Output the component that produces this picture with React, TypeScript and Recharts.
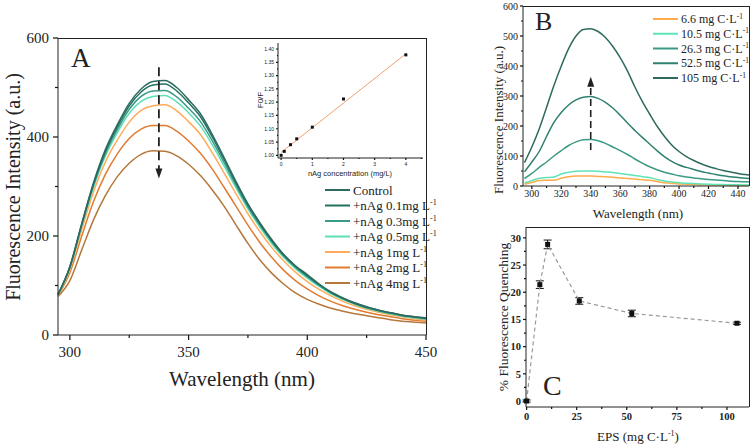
import React from "react";
import {
  LineChart,
  ComposedChart,
  Line,
  Scatter,
  XAxis,
  YAxis,
  ReferenceLine,
  ReferenceDot,
  ErrorBar,
} from "recharts";

const SERIF = "'Liberation Serif', 'Times New Roman', serif";
const SANS = "'Liberation Sans', Arial, sans-serif";
const INK = "#222";

// ---- panel A: quenching of EPS fluorescence by nAg ----
const wavelengths = [
  295, 300, 305, 310, 315, 320, 325, 330, 335, 340, 345, 350, 355, 360, 365, 370,
  375, 380, 385, 390, 395, 400, 405, 410, 415, 420, 425, 430, 435, 440, 445, 450,
];
const control = [82, 138, 225, 308, 375, 425, 468, 497, 512, 514, 500, 475, 447, 405, 358, 310, 265, 227, 193, 163, 140, 122, 103, 87, 75, 65, 57, 50, 45, 40, 37, 35];
const nAg01 = [82, 138, 224, 306, 372, 421, 463, 491, 505, 507, 493, 469, 441, 400, 354, 307, 263, 225, 191, 162, 139, 120, 102, 86, 74, 64, 56, 50, 45, 40, 37, 34];
const nAg03 = [81, 137, 222, 303, 367, 415, 456, 482, 493, 494, 481, 458, 431, 392, 348, 302, 259, 222, 189, 160, 137, 118, 100, 85, 73, 63, 55, 49, 44, 39, 36, 33];
const nAg05 = [81, 136, 220, 299, 362, 409, 448, 472, 482, 484, 471, 449, 422, 384, 341, 297, 255, 218, 185, 157, 134, 115, 98, 83, 72, 62, 54, 48, 43, 38, 35, 32];
const nAg1 = [80, 132, 213, 290, 350, 394, 430, 454, 463, 465, 453, 431, 405, 368, 327, 285, 245, 209, 177, 150, 127, 108, 92, 79, 68, 59, 52, 46, 41, 37, 33, 30];
const nAg2 = [80, 126, 200, 270, 325, 366, 397, 416, 423, 423, 412, 392, 367, 335, 298, 260, 222, 187, 157, 131, 110, 93, 79, 68, 59, 52, 46, 41, 37, 33, 30, 28];
const nAg4 = [78, 110, 172, 233, 282, 320, 347, 365, 372, 371, 362, 345, 322, 293, 260, 222, 185, 152, 125, 103, 85, 72, 62, 54, 48, 43, 39, 35, 31, 28, 26, 24];

const seriesA = [
  { key: "nAg4", name: "+nAg 4mg L", color: "#b5773a", values: nAg4 },
  { key: "nAg2", name: "+nAg 2mg L", color: "#e07b30", values: nAg2 },
  { key: "nAg1", name: "+nAg 1mg L", color: "#ffab5a", values: nAg1 },
  { key: "nAg05", name: "+nAg 0.5mg L", color: "#5ee0b5", values: nAg05 },
  { key: "nAg03", name: "+nAg 0.3mg L", color: "#3a9a88", values: nAg03 },
  { key: "nAg01", name: "+nAg 0.1mg L", color: "#22705f", values: nAg01 },
  { key: "control", name: "Control", color: "#2f6a62", values: control },
];

// inset: Stern-Volmer plot
const conc = [0, 0.1, 0.3, 0.5, 1, 2, 4];
const f0f = [1.0, 1.015, 1.04, 1.062, 1.106, 1.212, 1.378];
const fitX = [0, 4];
const fitY = [1.011, 1.382];

// ---- panel B: EPS fluorescence vs EPS concentration ----
const eps66 = [6, 12, 18, 19, 19, 26, 31, 33, 33, 33, 32, 31, 29, 27, 25, 23, 21, 19, 15, 11, 9, 7, 6, 5, 4, 4, 3, 3, 2, 2, 2, 2];
const eps105 = [10, 18, 26, 28, 30, 40, 46, 49, 50, 50, 49, 47, 45, 42, 38, 35, 31, 28, 22, 17, 13, 11, 9, 8, 7, 6, 5, 5, 4, 4, 3, 3];
const eps263 = [25, 42, 62, 80, 100, 118, 135, 147, 154, 155, 151, 142, 130, 118, 105, 90, 76, 64, 54, 46, 40, 34, 30, 27, 24, 22, 20, 18, 16, 15, 14, 13];
const eps525 = [47, 80, 115, 165, 212, 245, 270, 287, 296, 298, 292, 279, 260, 236, 210, 185, 162, 140, 118, 98, 82, 70, 62, 55, 48, 43, 38, 34, 31, 28, 26, 24];
const eps1050 = [78, 130, 190, 262, 335, 400, 458, 500, 522, 524, 515, 495, 465, 428, 383, 330, 282, 240, 200, 166, 137, 115, 98, 85, 74, 65, 58, 52, 47, 42, 38, 35];

const seriesB = [
  { key: "e66", name: "6.6 mg C·L", color: "#ffab4a", values: eps66 },
  { key: "e105", name: "10.5 mg C·L", color: "#5fe3b8", values: eps105 },
  { key: "e263", name: "26.3 mg C·L", color: "#3a9a85", values: eps263 },
  { key: "e525", name: "52.5 mg C·L", color: "#2f8070", values: eps525 },
  { key: "e1050", name: "105 mg C·L", color: "#2e6a5f", values: eps1050 },
];

// ---- panel C: % quenching vs EPS ----
const epsConc = [0, 6.6, 10.5, 26.3, 52.5, 105];
const quenching = [0, 21.4, 28.8, 18.4, 16.1, 14.3];
const quenchErr = [0.2, 0.7, 0.8, 0.6, 0.6, 0.2];

const dataA = wavelengths.map((w, i) => {
  const row: any = { w };
  seriesA.forEach((s) => (row[s.key] = s.values[i]));
  return row;
});
const dataB = wavelengths.map((w, i) => {
  const row: any = { w };
  seriesB.forEach((s) => (row[s.key] = s.values[i]));
  return row;
});
const dataC = epsConc.map((x, i) => ({ x, q: quenching[i], err: quenchErr[i] }));
const insetPts = conc.map((x, i) => ({ x, y: f0f[i] }));

type TickOpts = {
  side: "bottom" | "left";
  majors: number[];
  fmt: (v: number) => string;
  size: number;
  major: number;
  minor: number;
  off: number;
  font: string;
  weight?: string | number;
};

function makeTick(o: TickOpts) {
  return (props: any) => {
    const { x, y, payload } = props;
    const v = payload.value;
    const isMajor = o.majors.some((m) => Math.abs(m - v) < 1e-6);
    const len = isMajor ? o.major : o.minor;
    if (o.side === "bottom") {
      return (
        <g>
          <path d={`M${x},${y}V${y + len}`} stroke="#111" strokeWidth={1.2} fill="none" />
          {isMajor && (
            <text x={x} y={y + o.off} textAnchor="middle" fontSize={o.size} fontFamily={o.font} fontWeight={o.weight} fill={INK}>
              {o.fmt(v)}
            </text>
          )}
        </g>
      );
    }
    return (
      <g>
        <path d={`M${x},${y}H${x - len}`} stroke="#111" strokeWidth={1.2} fill="none" />
        {isMajor && (
          <text x={x - o.off} y={y} dy="0.35em" textAnchor="end" fontSize={o.size} fontFamily={o.font} fontWeight={o.weight} fill={INK}>
            {o.fmt(v)}
          </text>
        )}
      </g>
    );
  };
}

const arrowHead = (dir: "up" | "down") => (p: any) => {
  const { cx, cy } = p;
  const h = dir === "down" ? -10 : 10;
  return <path d={`M${cx - 3.5},${cy + h} L${cx + 3.5},${cy + h} L${cx},${cy} Z`} fill={INK} />;
};

const square = (s: number) => (p: any) => {
  if (p.cx == null || p.cy == null) return <g />;
  return <rect key={`sq-${p.cx}-${p.cy}`} x={p.cx - s / 2} y={p.cy - s / 2} width={s} height={s} fill="#111" />;
};

const axisLine = { stroke: INK, strokeWidth: 1 };

// top + right edges of a boxed plot area (plot areas are fixed by the chart margins below)
function Box({ left, top, width, height }: { left: number; top: number; width: number; height: number }) {
  return (
    <div
      style={{
        position: "absolute",
        left,
        top,
        width,
        height,
        boxSizing: "border-box",
        borderTop: `1px solid ${INK}`,
        borderRight: `1px solid ${INK}`,
        pointerEvents: "none",
      }}
    />
  );
}

function Sup({ children, dy = -5 }: any) {
  return (
    <tspan dy={dy} fontSize="0.62em">
      {children}
    </tspan>
  );
}

export default function App() {
  const tickAx = makeTick({ side: "bottom", majors: [300, 350, 400, 450], fmt: String, size: 15, major: 5, minor: 3, off: 22, font: SERIF });
  const tickAy = makeTick({ side: "left", majors: [0, 200, 400, 600], fmt: String, size: 15, major: 5, minor: 3, off: 9, font: SERIF });
  const tickIx = makeTick({ side: "bottom", majors: [0, 1, 2, 3, 4], fmt: String, size: 5, major: 2, minor: 1, off: 8, font: SANS });
  const tickIy = makeTick({ side: "left", majors: [1, 1.05, 1.1, 1.15, 1.2, 1.25, 1.3, 1.35, 1.4], fmt: (v) => v.toFixed(2), size: 5, major: 2, minor: 1, off: 4, font: SANS });
  const tickBx = makeTick({ side: "bottom", majors: [300, 320, 340, 360, 380, 400, 420, 440], fmt: String, size: 10, major: 3, minor: 2, off: 11, font: SERIF });
  const tickBy = makeTick({ side: "left", majors: [0, 100, 200, 300, 400, 500, 600], fmt: String, size: 10, major: 3, minor: 2, off: 5, font: SERIF });
  const tickCx = makeTick({ side: "bottom", majors: [0, 25, 50, 75, 100], fmt: String, size: 10.5, major: 3, minor: 2, off: 13, font: SERIF, weight: "bold" });
  const tickCy = makeTick({ side: "left", majors: [0, 5, 10, 15, 20, 25, 30], fmt: String, size: 10.5, major: 3, minor: 2, off: 5, font: SERIF, weight: "bold" });

  return (
    <div style={{ position: "absolute", left: 0, top: 0, width: 752, height: 445, background: "#fff", overflow: "hidden" }}>
      {/* Panel A */}
      <div style={{ position: "absolute", left: 0, top: 0 }}>
        <LineChart width={440} height={400} data={dataA} margin={{ top: 38, right: 14, left: 0, bottom: 0 }}>
          <XAxis dataKey="w" type="number" domain={[295, 450]} ticks={[300, 325, 350, 375, 400, 425, 450]} interval={0} tickSize={0} tickMargin={0} tickLine={false} axisLine={axisLine} tick={tickAx} height={65} />
          <YAxis type="number" domain={[0, 600]} ticks={[0, 100, 200, 300, 400, 500, 600]} interval={0} tickSize={0} tickMargin={0} tickLine={false} axisLine={axisLine} tick={tickAy} width={58} />
          {seriesA.map((s) => (
            <Line key={s.key} type="monotone" dataKey={s.key} stroke={s.color} strokeWidth={1.5} dot={false} isAnimationActive={false} />
          ))}
          <ReferenceLine segment={[{ x: 337.5, y: 541 }, { x: 337.5, y: 328 }]} stroke={INK} strokeWidth={1.8} strokeDasharray="9 5" />
          <ReferenceDot x={337.5} y={316} r={0} shape={arrowHead("down")} />
        </LineChart>
      </div>
      <Box left={58} top={37.5} width={368.5} height={297.5} />

      {/* Inset */}
      <div style={{ position: "absolute", left: 250, top: 35 }}>
        <ComposedChart width={180} height={150} data={insetPts} margin={{ top: 8, right: 7, left: 0, bottom: 0 }}>
          <XAxis dataKey="x" type="number" domain={[-0.1, 4.55]} ticks={[0, 0.5, 1, 1.5, 2, 2.5, 3, 3.5, 4, 4.5]} interval={0} tickSize={0} tickMargin={0} tickLine={false} axisLine={axisLine} tick={tickIx} height={27} />
          <YAxis dataKey="y" type="number" domain={[0.99, 1.4226]} ticks={[1, 1.025, 1.05, 1.075, 1.1, 1.125, 1.15, 1.175, 1.2, 1.225, 1.25, 1.275, 1.3, 1.325, 1.35, 1.375, 1.4]} interval={0} tickSize={0} tickMargin={0} tickLine={false} axisLine={axisLine} tick={tickIy} width={28} />
          <ReferenceLine segment={[{ x: fitX[0], y: fitY[0] }, { x: fitX[1], y: fitY[1] }]} stroke="#f0a070" strokeWidth={1} />
          <Scatter data={insetPts} dataKey="y" shape={square(3)} isAnimationActive={false} />
        </ComposedChart>
      </div>

      {/* Panel B */}
      <div style={{ position: "absolute", left: 470, top: 0 }}>
        <LineChart width={282} height={225} data={dataB} margin={{ top: 6, right: 3, left: 0, bottom: 0 }}>
          <XAxis dataKey="w" type="number" domain={[294, 447.5]} allowDataOverflow ticks={[300, 310, 320, 330, 340, 350, 360, 370, 380, 390, 400, 410, 420, 430, 440]} interval={0} tickSize={0} tickMargin={0} tickLine={false} axisLine={axisLine} tick={tickBx} height={39} />
          <YAxis type="number" domain={[0, 600]} ticks={[0, 50, 100, 150, 200, 250, 300, 350, 400, 450, 500, 550, 600]} interval={0} tickSize={0} tickMargin={0} tickLine={false} axisLine={axisLine} tick={tickBy} width={53} />
          {seriesB.map((s) => (
            <Line key={s.key} type="monotone" dataKey={s.key} stroke={s.color} strokeWidth={1.5} dot={false} isAnimationActive={false} />
          ))}
          <ReferenceLine segment={[{ x: 340, y: 120 }, { x: 340, y: 345 }]} stroke={INK} strokeWidth={1.6} strokeDasharray="7 4" />
          <ReferenceDot x={340} y={364} r={0} shape={arrowHead("up")} />
        </LineChart>
      </div>
      <Box left={523} top={5.5} width={226.5} height={180.5} />

      {/* Panel C */}
      <div style={{ position: "absolute", left: 470, top: 215 }}>
        <ComposedChart width={282} height={230} data={dataC} margin={{ top: 12, right: 3, left: 0, bottom: 0 }}>
          <XAxis dataKey="x" type="number" domain={[-0.3, 111]} ticks={[0, 12.5, 25, 37.5, 50, 62.5, 75, 87.5, 100]} interval={0} tickSize={0} tickMargin={0} tickLine={false} axisLine={axisLine} tick={tickCx} height={38} />
          <YAxis type="number" domain={[-1.1, 32]} ticks={[0, 2.5, 5, 7.5, 10, 12.5, 15, 17.5, 20, 22.5, 25, 27.5, 30]} interval={0} tickSize={0} tickMargin={0} tickLine={false} axisLine={axisLine} tick={tickCy} width={56} />
          <Line dataKey="q" stroke="#9a9a9a" strokeWidth={1.2} strokeDasharray="4 3" dot={square(5)} isAnimationActive={false}>
            <ErrorBar dataKey="err" width={4} strokeWidth={1} stroke="#111" direction="y" />
          </Line>
        </ComposedChart>
      </div>
      <Box left={526} top={226.5} width={223.5} height={180.5} />

      {/* text overlay */}
      <svg width={752} height={445} style={{ position: "absolute", left: 0, top: 0, pointerEvents: "none" }} fontFamily={SERIF} fill={INK}>
        {/* A */}
        <text x={71} y={67} fontSize={27}>A</text>
        <text transform="translate(13,187) rotate(-90)" textAnchor="middle" dy="0.35em" fontSize={20}>Fluorescence Intensity (a.u.)</text>
        <text x={242} y={386} textAnchor="middle" fontSize={21}>Wavelength (nm)</text>
        {[...seriesA].reverse().map((s, i) => {
          const cy = 190 + i * 15.5;
          return (
            <g key={s.key}>
              <line x1={325} x2={350} y1={cy} y2={cy} stroke={s.color} strokeWidth={2} />
              <text x={353} y={cy + 4.5} fontSize={13}>
                {s.name}
                {s.key !== "control" && <Sup dy={-5}>-1</Sup>}
              </text>
            </g>
          );
        })}
        {/* inset labels */}
        <text transform="translate(260,100) rotate(-90)" textAnchor="middle" dy="0.35em" fontSize={8} fontFamily={SANS}>F0/F</text>
        <text x={350} y={176} textAnchor="middle" fontSize={7.5} fontFamily={SANS}>nAg concentration (mg/L)</text>

        {/* B */}
        <text x={535} y={30} fontSize={26}>B</text>
        <text transform="translate(498,120) rotate(-90)" textAnchor="middle" dy="0.35em" fontSize={13}>Fluorescence Intensity (a.u.)</text>
        <text x={638} y={218} textAnchor="middle" fontSize={13}>Wavelength (nm)</text>
        {seriesB.map((s, i) => {
          const cy = 19 + i * 14.75;
          return (
            <g key={s.key}>
              <line x1={653} x2={678} y1={cy} y2={cy} stroke={s.color} strokeWidth={2} />
              <text x={681} y={cy + 4} fontSize={12}>
                {s.name}
                <Sup dy={-4.5}>-1</Sup>
              </text>
            </g>
          );
        })}

        {/* C */}
        <text x={543} y={395} fontSize={28}>C</text>
        <text transform="translate(503,317) rotate(-90)" textAnchor="middle" dy="0.35em" fontSize={13.5}>% Fluorescence Quenching</text>
        <text x={638} y={441} textAnchor="middle" fontSize={13}>
          EPS (mg C·L<Sup dy={-5}>-1</Sup>
          <tspan dy={5}>)</tspan>
        </text>
      </svg>
    </div>
  );
}
